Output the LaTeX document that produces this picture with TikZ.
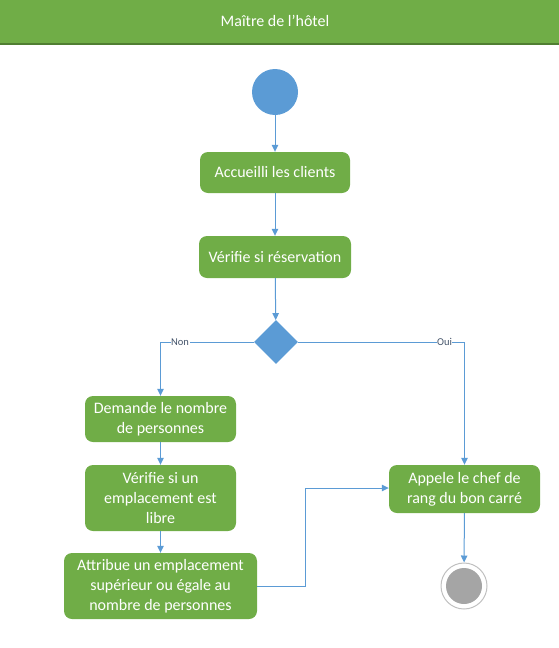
\documentclass[tikz,border=0pt]{standalone}
\usepackage{fontspec}
\setmainfont{Carlito}
\usetikzlibrary{arrows.meta,shapes.geometric}
\definecolor{leafgreen}{HTML}{70AD47}
\definecolor{darkleaf}{HTML}{507E32}
\definecolor{flowblue}{HTML}{5B9BD5}
\definecolor{endgray}{HTML}{A5A5A5}
\definecolor{labelblue}{HTML}{44546A}
\tikzset{
  x=1pt, y=-1pt,
  action/.style={draw=none, fill=leafgreen, rounded corners=8pt, text=white,
    font=\fontsize{16}{20}\selectfont, align=center, inner sep=0pt, anchor=center},
  flow/.style={draw=flowblue, line width=1pt, -{Triangle[length=7pt,width=6.5pt]}},
  guard/.style={fill=white, text=labelblue, font=\fontsize{10.5}{12}\selectfont, inner sep=0.5pt}
}
\begin{document}
\begin{tikzpicture}
\useasboundingbox (0,0) rectangle (559,648);
% swimlane header
\fill[leafgreen] (0,0) rectangle (559,44);
\draw[darkleaf, line width=1.5pt] (0,44) -- (559,44);
\node[text=white, font=\fontsize{16}{19}\selectfont] (lane) at (275,21) {Maître de l'hôtel};

% initial node
\node[circle, fill=flowblue, minimum size=46pt, inner sep=0pt] (start) at (275,92) {};

% actions
\node[action, minimum width=150pt, minimum height=41pt] (accueil) at (275,172.5) {Accueilli les clients};
\node[action, minimum width=152pt, minimum height=42pt] (resa) at (275,257) {Vérifie si réservation};
\node[diamond, fill=flowblue, minimum width=44pt, minimum height=44pt, inner sep=0pt] (choix) at (276,342) {};
\node[action, minimum width=151pt, minimum height=46pt] (nombre) at (160.5,419) {Demande le nombre\\de personnes};
\node[action, minimum width=151pt, minimum height=66pt] (libre) at (160.5,498) {Vérifie si un\\emplacement est\\libre};
\node[action, minimum width=193pt, minimum height=66pt] (attribue) at (160.5,586) {Attribue un emplacement\\supérieur ou égale au\\nombre de personnes};
\node[action, minimum width=151pt, minimum height=48pt] (chef) at (464.5,489) {Appele le chef de\\rang du bon carré};

% final node
\node[circle, draw=endgray!70, line width=1pt, minimum size=46pt, inner sep=0pt] (fin) at (464,586) {};
\node[circle, fill=endgray, minimum size=36pt, inner sep=0pt] (finin) at (fin.center) {};

% control flow
\draw[flow] (start) -- (accueil);
\draw[flow] (accueil) -- (resa);
\draw[flow] (resa) -- (choix);
\draw[flow] (choix.west) -- (160.5,342) node[guard, pos=0.79] {Non} -- (nombre.north);
\draw[flow] (choix.east) -- (464.5,342) node[guard, pos=0.88] {Oui} -- (chef.north);
\draw[flow] (nombre) -- (libre);
\draw[flow] (libre) -- (attribue);
\draw[flow] (attribue.east) -- (305,586) -- (305,488) -- (chef.west |- 0,488);
\draw[flow] (chef) -- (fin);
\end{tikzpicture}
\end{document}
